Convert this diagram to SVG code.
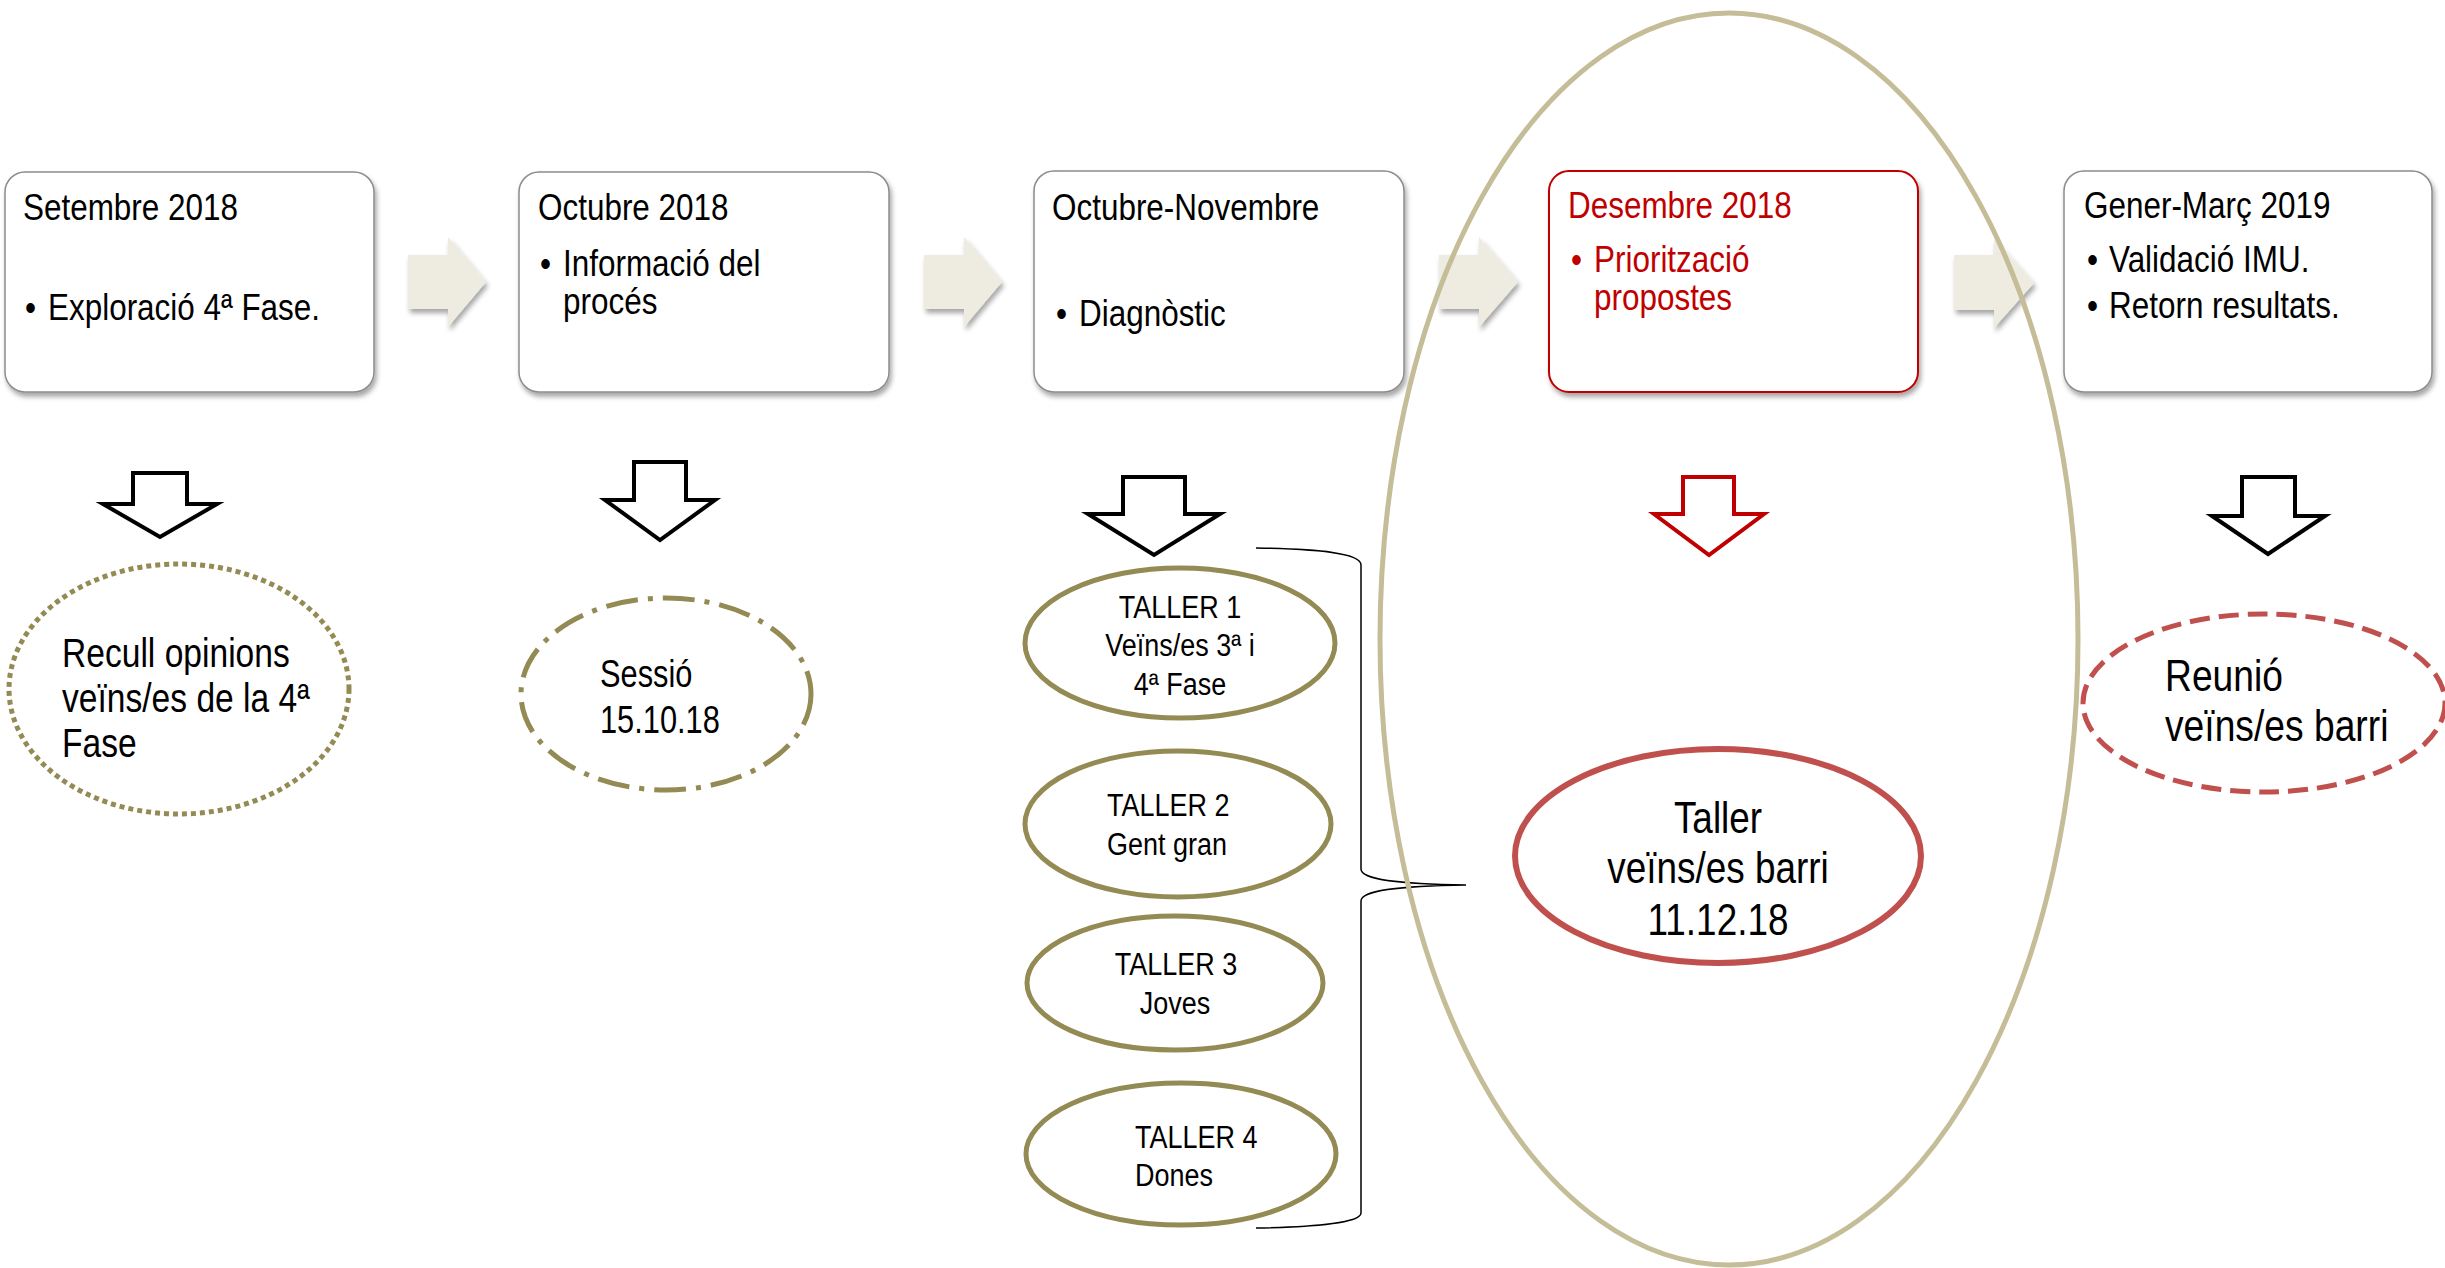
<svg xmlns="http://www.w3.org/2000/svg" width="2445" height="1268" viewBox="0 0 2445 1268">
<defs>
<filter id="sh" x="-10%" y="-10%" width="120%" height="130%">
<feDropShadow dx="2" dy="4" stdDeviation="2.5" flood-color="#000" flood-opacity="0.35"/>
</filter>
<style>
text{font-family:"Liberation Sans",Arial,sans-serif;fill:#000}
.box{fill:#fff;stroke:#8c8c8c;stroke-width:1.5}
.rbox{fill:#fff;stroke:#c00000;stroke-width:2}
.t{font-size:37px}
.red{fill:#c00000}
.barrow{fill:#eeece1}
.darrow{fill:#fff;stroke:#000;stroke-width:4;stroke-linejoin:miter}
.darrow-r{fill:#fff;stroke:#c00000;stroke-width:4}
.olive{fill:#fff;stroke:#948a54;stroke-width:5}
.tl{font-size:31px;text-anchor:middle}
.ts{font-size:31px}
.big{font-size:40px}
.mid45{font-size:45px;text-anchor:middle}
.rede{fill:#fff;stroke:#c0504d;stroke-width:6}
</style>
</defs>
<rect width="2445" height="1268" fill="#fff"/>

<g id="connectors">
<polygon class="barrow" filter="url(#sh)" points="408,255 448,255 448,237 486,282 448,327 448,309 408,309"/>
<polygon class="barrow" filter="url(#sh)" points="924,255 964,255 964,237 1002,282 964,327 964,309 924,309"/>
<polygon class="barrow" filter="url(#sh)" points="1439,255 1479,255 1479,237 1518,282 1479,327 1479,309 1439,309"/>
<polygon class="barrow" filter="url(#sh)" points="1954,255 1994,255 1994,239 2034,283 1994,328 1994,310 1954,310"/>
<polygon class="darrow" points="133,473 187,473 187,504 217,504 160,537 103,504 133,504"/>
<polygon class="darrow" points="634,462 686,462 686,500 715,500 660,540 605,500 634,500"/>
<polygon class="darrow" points="1123,477 1185,477 1185,514 1220,514 1154,555 1088,514 1123,514"/>
<polygon class="darrow-r" points="1683,477 1734,477 1734,514 1764,514 1709,555 1654,514 1683,514"/>
<polygon class="darrow" points="2242,477 2295,477 2295,516 2325,516 2268,554 2212,516 2242,516"/>
<path d="M1256,548 C1320,549 1361,553 1361,565 L1361,869 C1361,880 1400,884 1466,885 C1400,886 1361,890 1361,901 L1361,1213 C1361,1222 1320,1227 1256,1228" fill="none" stroke="#000" stroke-width="1.5"/>
</g>

<g id="box1">
<rect class="box" filter="url(#sh)" x="5" y="172" width="369" height="220" rx="20"/>
<text class="t" transform="matrix(0.85 0 0 1 23 220)">Setembre 2018</text>
<text class="t" transform="matrix(0.85 0 0 1 25 320)">•</text>
<text class="t" transform="matrix(0.85 0 0 1 48 320)">Exploració 4ª Fase.</text>
</g>
<g id="box2">
<rect class="box" filter="url(#sh)" x="519" y="172" width="370" height="220" rx="20"/>
<text class="t" transform="matrix(0.85 0 0 1 538 220)">Octubre 2018</text>
<text class="t" transform="matrix(0.85 0 0 1 540 276)">•</text>
<text class="t" transform="matrix(0.85 0 0 1 563 276)">Informació del</text>
<text class="t" transform="matrix(0.85 0 0 1 563 314)">procés</text>
</g>
<g id="box3">
<rect class="box" filter="url(#sh)" x="1034" y="171" width="370" height="221" rx="20"/>
<text class="t" transform="matrix(0.85 0 0 1 1052 220)">Octubre-Novembre</text>
<text class="t" transform="matrix(0.85 0 0 1 1056 326)">•</text>
<text class="t" transform="matrix(0.85 0 0 1 1079 326)">Diagnòstic</text>
</g>
<g id="box4">
<rect class="rbox" filter="url(#sh)" x="1549" y="171" width="369" height="221" rx="20"/>
<text class="t red" transform="matrix(0.85 0 0 1 1568 218)">Desembre 2018</text>
<text class="t red" transform="matrix(0.85 0 0 1 1571 272)">•</text>
<text class="t red" transform="matrix(0.85 0 0 1 1594 272)">Priorització</text>
<text class="t red" transform="matrix(0.85 0 0 1 1594 310)">propostes</text>
</g>
<g id="box5">
<rect class="box" filter="url(#sh)" x="2064" y="171" width="368" height="221" rx="20"/>
<text class="t" transform="matrix(0.85 0 0 1 2084 218)">Gener-Març 2019</text>
<text class="t" transform="matrix(0.85 0 0 1 2087 272)">•</text>
<text class="t" transform="matrix(0.85 0 0 1 2109 272)">Validació IMU.</text>
<text class="t" transform="matrix(0.85 0 0 1 2087 318)">•</text>
<text class="t" transform="matrix(0.85 0 0 1 2109 318)">Retorn resultats.</text>
</g>

<g id="recull">
<ellipse cx="179" cy="689" rx="170" ry="125" fill="#fff" stroke="#948a54" stroke-width="5" stroke-dasharray="5 4"/>
<text class="big" transform="matrix(0.84 0 0 1 62 667)">Recull opinions</text>
<text class="big" transform="matrix(0.84 0 0 1 62 712)">veïns/es de la 4ª</text>
<text class="big" transform="matrix(0.84 0 0 1 62 757)">Fase</text>
</g>
<g id="sessio">
<ellipse cx="666" cy="694" rx="145" ry="96" fill="#fff" stroke="#948a54" stroke-width="5" stroke-dasharray="32 10 5 10"/>
<text style="font-size:38px" transform="matrix(0.81 0 0 1 600 687)">Sessió</text>
<text style="font-size:38px" transform="matrix(0.81 0 0 1 600 733)">15.10.18</text>
</g>
<g id="taller1">
<ellipse class="olive" cx="1180" cy="643" rx="155" ry="75"/>
<text class="tl" transform="matrix(0.87 0 0 1 1180 618)">TALLER 1</text>
<text class="tl" transform="matrix(0.87 0 0 1 1180 656)">Veïns/es 3ª i</text>
<text class="tl" transform="matrix(0.87 0 0 1 1180 695)">4ª Fase</text>
</g>
<g id="taller2">
<ellipse class="olive" cx="1178" cy="824" rx="153" ry="73"/>
<text class="ts" transform="matrix(0.87 0 0 1 1107 816)">TALLER 2</text>
<text class="ts" transform="matrix(0.87 0 0 1 1107 855)">Gent gran</text>
</g>
<g id="taller3">
<ellipse class="olive" cx="1175" cy="983" rx="148" ry="67"/>
<text class="tl" transform="matrix(0.87 0 0 1 1176 975)">TALLER 3</text>
<text class="tl" transform="matrix(0.87 0 0 1 1175 1014)">Joves</text>
</g>
<g id="taller4">
<ellipse class="olive" cx="1181" cy="1154" rx="155" ry="71"/>
<text class="ts" transform="matrix(0.87 0 0 1 1135 1148)">TALLER 4</text>
<text class="ts" transform="matrix(0.87 0 0 1 1135 1186)">Dones</text>
</g>
<g id="taller-barri">
<ellipse class="rede" cx="1718" cy="856" rx="203" ry="107"/>
<text class="mid45" transform="matrix(0.82 0 0 1 1718 833)">Taller</text>
<text class="mid45" transform="matrix(0.82 0 0 1 1718 883)">veïns/es barri</text>
<text class="mid45" transform="matrix(0.82 0 0 1 1718 935)">11.12.18</text>
</g>
<g id="reunio">
<ellipse cx="2264" cy="703" rx="181" ry="89" fill="#fff" stroke="#c0504d" stroke-width="5" stroke-dasharray="20 9"/>
<text style="font-size:44px" transform="matrix(0.846 0 0 1 2165 691)">Reunió</text>
<text style="font-size:44px" transform="matrix(0.846 0 0 1 2165 741)">veïns/es barri</text>
</g>
<g id="fase-desembre">
<ellipse cx="1729" cy="639" rx="349" ry="626" fill="none" stroke="#c4bd97" stroke-width="5"/>
</g>
</svg>
